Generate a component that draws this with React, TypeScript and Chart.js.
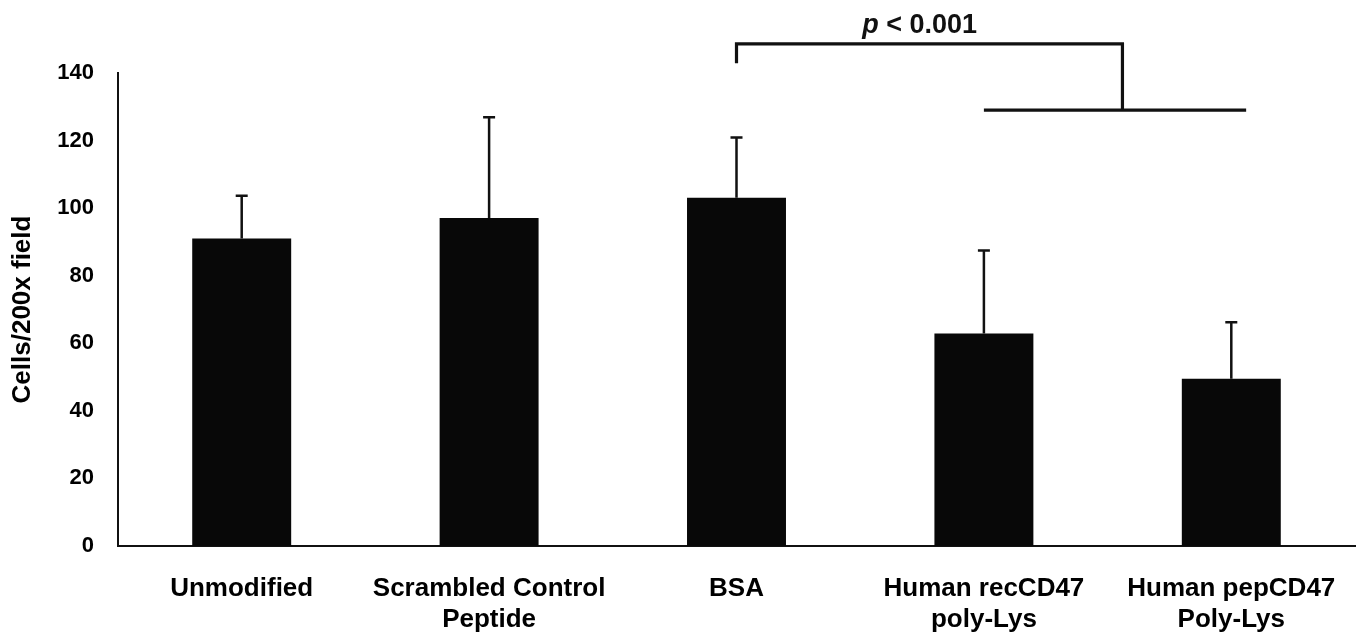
import React, { useEffect, useRef } from "react";
import { Chart, registerables } from "chart.js";

Chart.register(...registerables);

const categories: (string | string[])[] = [
  "Unmodified",
  ["Scrambled Control", "Peptide"],
  "BSA",
  ["Human recCD47", "poly-Lys"],
  ["Human pepCD47", "Poly-Lys"],
];
const means = [91.0, 97.1, 103.1, 62.9, 49.5];
const errors = [12.7, 29.8, 17.8, 24.6, 16.7];
const yTicks = [0, 20, 40, 60, 80, 100, 120, 140];

// significance bracket, in data units (category index / y value)
const bracketLeftIndex = 2;
const bracketTopValue = 148.6;
const bracketLeftTickBottom = 142.9;
const bracketRightIndex = 3.56;
const bracketLowerValue = 129.0;
const bracketLowerStart = 3;
const bracketLowerEnd = 4.06;
const bracketTextIndex = 2.74;
const pLabel = ["p", " < 0.001"];

const FONT = "'Liberation Sans', Arial, Helvetica, sans-serif";

const overlayPlugin = {
  id: "overlay",
  afterDatasetsDraw(chart: any) {
    const ctx = chart.ctx;
    const x = chart.scales.x;
    const y = chart.scales.y;
    ctx.save();
    // error bars
    ctx.strokeStyle = "#111";
    ctx.lineWidth = 2.5;
    means.forEach((m, i) => {
      const px = x.getPixelForValue(i);
      const top = y.getPixelForValue(m + errors[i]);
      const base = y.getPixelForValue(m);
      ctx.beginPath();
      ctx.moveTo(px, base);
      ctx.lineTo(px, top);
      ctx.moveTo(px - 6, top);
      ctx.lineTo(px + 6, top);
      ctx.stroke();
    });
    // bracket
    ctx.lineWidth = 3.2;
    ctx.lineCap = "butt";
    ctx.strokeStyle = "#111";
    const lx = x.getPixelForValue(bracketLeftIndex);
    const rx = x.getPixelForValue(bracketRightIndex);
    const ty = y.getPixelForValue(bracketTopValue);
    const tb = y.getPixelForValue(bracketLeftTickBottom);
    const ly = y.getPixelForValue(bracketLowerValue);
    ctx.beginPath();
    ctx.moveTo(lx, tb);
    ctx.lineTo(lx, ty);
    ctx.lineTo(rx, ty);
    ctx.lineTo(rx, ly);
    ctx.stroke();
    ctx.beginPath();
    ctx.moveTo(x.getPixelForValue(bracketLowerStart), ly);
    ctx.lineTo(x.getPixelForValue(bracketLowerEnd), ly);
    ctx.stroke();
    // p label
    ctx.fillStyle = "#111";
    ctx.textBaseline = "alphabetic";
    ctx.textAlign = "left";
    const f1 = `italic bold 27px ${FONT}`;
    const f2 = `bold 27px ${FONT}`;
    ctx.font = f1;
    const w1 = ctx.measureText(pLabel[0]).width;
    ctx.font = f2;
    const w2 = ctx.measureText(pLabel[1]).width;
    const cx = x.getPixelForValue(bracketTextIndex);
    const startX = cx - (w1 + w2) / 2;
    const by = ty - 11;
    ctx.font = f1;
    ctx.fillText(pLabel[0], startX, by);
    ctx.font = f2;
    ctx.fillText(pLabel[1], startX + w1, by);
    ctx.restore();
  },
};

export default function App() {
  const ref = useRef<HTMLCanvasElement | null>(null);
  useEffect(() => {
    if (!ref.current) return;
    const chart = new Chart(ref.current, {
      type: "bar",
      data: {
        labels: categories as any,
        datasets: [
          {
            data: means,
            backgroundColor: "#080808",
            borderWidth: 0,
            categoryPercentage: 1,
            barPercentage: 0.4,
          },
        ],
      },
      options: {
        animation: false,
        responsive: false,
        devicePixelRatio: 1,
        layout: { padding: { top: 73, right: 6, left: 0, bottom: 0 } },
        plugins: {
          legend: { display: false },
          tooltip: { enabled: false },
        },
        scales: {
          x: {
            grid: { display: false, drawTicks: false },
            border: { display: true, color: "#111", width: 2 },
            ticks: {
              color: "#000",
              padding: 27,
              maxRotation: 0,
              autoSkip: false,
              font: { family: FONT, size: 26, weight: "bold", lineHeight: 1.2 },
            },
            afterFit: (s: any) => {
              s.height = 93;
              s.paddingRight = 0;
              s.paddingLeft = 0;
            },
          },
          y: {
            min: 0,
            max: 140,
            grid: { display: false, drawTicks: false },
            border: { display: true, color: "#111", width: 2 },
            afterBuildTicks: (s: any) => {
              s.ticks = yTicks.map((v) => ({ value: v }));
            },
            ticks: {
              color: "#000",
              padding: 24,
              font: { family: FONT, size: 22, weight: "bold" },
            },
            title: {
              display: true,
              text: "Cells/200x field",
              color: "#000",
              padding: { top: 7, bottom: 0 },
              font: { family: FONT, size: 26, weight: "bold", lineHeight: 1.2 },
            },
            afterFit: (s: any) => {
              s.width = 118;
            },
          },
        },
      },
      plugins: [overlayPlugin],
    });
    return () => chart.destroy();
  }, []);
  return (
    <div style={{ position: "absolute", left: 0, top: 0, width: 1361, height: 639, background: "#fff" }}>
      <canvas ref={ref} width={1361} height={639} style={{ display: "block" }} />
    </div>
  );
}
